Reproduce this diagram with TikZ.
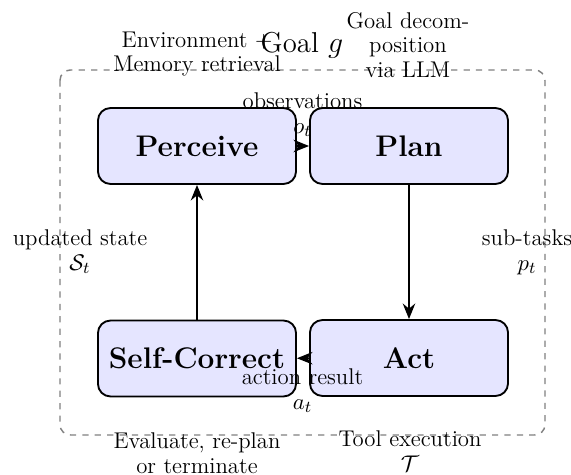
\documentclass[tikz,border=0pt]{standalone}
\usetikzlibrary{arrows.meta}
\begin{document}
\begin{tikzpicture}[x=0.4833pt,y=-0.4833pt,
  stagebox/.style={draw=black,line width=0.9pt,fill=blue!10,rounded corners=6pt,minimum width=95.7pt,minimum height=36.7pt,font=\fontsize{14.4}{16}\selectfont\bfseries,inner sep=0pt},
  flow/.style={-{Stealth[length=7.5pt,width=6pt]},line width=0.9pt},
  lbl/.style={align=center,inner sep=0pt,font=\fontsize{11}{11.9}\selectfont}]
\useasboundingbox (0,0) rectangle (571,475);
\draw[gray,dashed,line width=0.7pt,rounded corners=5pt] (60,70) rectangle (545,435);
\node[stagebox] (per) at (197,146) {Perceive};
\node[stagebox] (pla) at (409,146) {Plan};
\node[stagebox] (sc) at (197,358.5) {Self-Correct};
\node[stagebox] (act) at (409,358) {Act};
\draw[flow] (per) -- (pla);
\draw[flow] (pla) -- (act);
\draw[flow] (act) -- (sc);
\draw[flow] (sc) -- (per);
\node[lbl] (env) at (197,54) {Environment +\\Memory retrieval};
\node[lbl,font=\fontsize{13.9}{15}\selectfont] (goal) at (302,45) {Goal $g$};
\node[lbl] (dec) at (408,45) {Goal decom-\\position\\via LLM};
\node[lbl] (obs) at (302.5,115) {observations\\$o_t$};
\node[lbl] (upd) at (80,252) {updated state\\$\mathcal{S}_t$};
\node[lbl] (sub) at (527,252) {sub-tasks\\$p_t$};
\node[lbl] (res) at (302.5,391) {action result\\$a_t$};
\node[lbl] (eval) at (197,453) {Evaluate, re-plan\\or terminate};
\node[lbl] (tool) at (410,451) {Tool execution\\$\mathcal{T}$};
\end{tikzpicture}
\end{document}
